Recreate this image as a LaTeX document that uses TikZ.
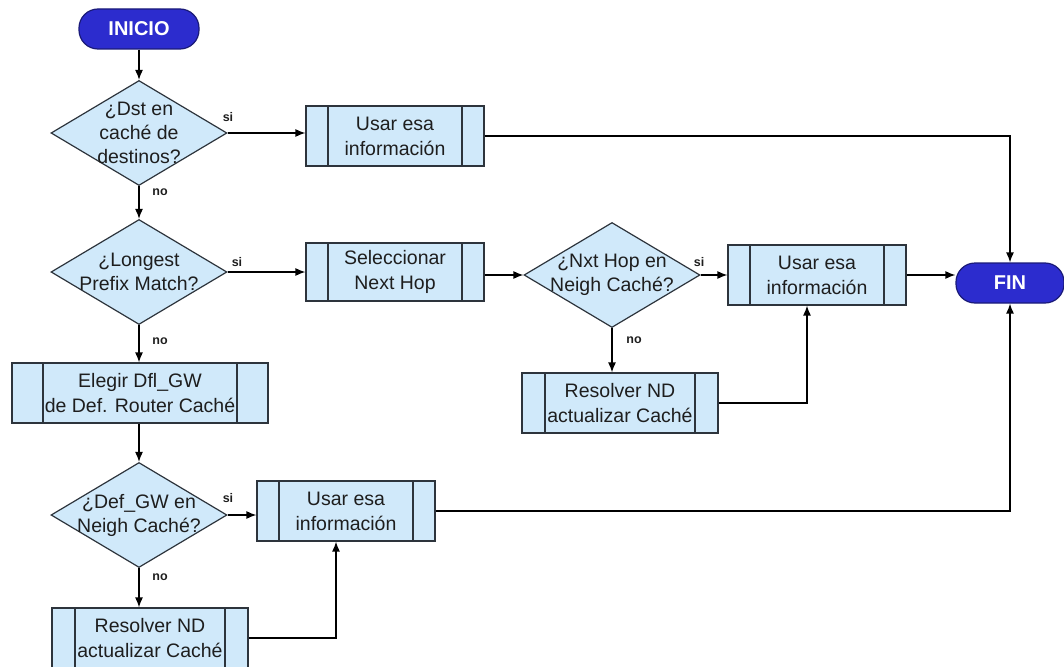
\documentclass[tikz,border=0pt]{standalone}
\usepackage{fontspec}
\setmainfont{Liberation Sans}
\usetikzlibrary{shapes.geometric,arrows.meta}

\definecolor{pillblue}{RGB}{44,44,206}
\definecolor{pilledge}{RGB}{26,26,120}
\definecolor{cellblue}{RGB}{208,233,250}
\definecolor{edgegray}{RGB}{45,52,60}
\definecolor{inkgray}{RGB}{30,30,30}

\tikzset{
  sidew/.store in=\sidew, sidew=22pt,
  terminal/.style={draw=pilledge, line width=1.2pt, fill=pillblue,
    rounded corners=19pt, minimum width=#1, minimum height=40pt,
    inner sep=0pt, text=white, font=\fontsize{20}{24}\selectfont\bfseries},
  decision/.style={diamond, draw=edgegray, line width=1.2pt, fill=cellblue,
    minimum width=176pt, minimum height=105pt, inner sep=0pt},
  dectext/.style={align=center, inner sep=0pt, text=inkgray,
    font=\fontsize{19.5}{24}\selectfont},
  subproc/.style={draw=edgegray, line width=1.2pt, fill=cellblue,
    minimum width=#1, minimum height=60pt, inner sep=0pt, align=center,
    text=inkgray, font=\fontsize{19.5}{25}\selectfont,
    path picture={
      \draw[edgegray, line width=1.2pt]
        ([xshift=\sidew]path picture bounding box.north west) --
        ([xshift=\sidew]path picture bounding box.south west)
        ([xshift=-\sidew]path picture bounding box.north east) --
        ([xshift=-\sidew]path picture bounding box.south east);}},
  flow/.style={draw=black, line width=1.3pt, -{Latex[length=10pt,width=8pt]}},
  branch/.style={inner sep=0pt, text=inkgray, font=\fontsize{12.5}{14}\selectfont\bfseries}
}

\begin{document}
\begin{tikzpicture}[x=1pt, y=-1pt]
  \useasboundingbox (0,0) rectangle (1064,666);

  % terminals
  \node[terminal=120pt] (inicio) at (139,29) {INICIO};
  \node[terminal=108pt] (fin) at (1010,283) {FIN};

  % first decision: destination cache
  \node[decision] (d1) at (139,133) {};
  \node[dectext] (d1t) at (d1) {¿Dst en\\caché de\\destinos?};
  \node[subproc=178pt] (u1) at (395,136) {Usar esa\\información};

  % second decision: longest prefix match
  \node[decision] (d2) at (139,272) {};
  \node[dectext] (d2t) at (d2) {¿Longest\\Prefix Match?};
  \node[subproc=178pt, minimum height=58pt] (sel) at (395,272) {Seleccionar\\Next Hop};

  \node[decision] (d4) at (612,275) {};
  \node[dectext] (d4t) at (d4) {¿Nxt Hop en\\Neigh Caché?};
  \node[subproc=178pt] (u2) at (817,275) {Usar esa\\información};
  \node[subproc=196pt, sidew=23pt] (r1) at (620,403) {Resolver ND\\actualizar Caché};

  % default router branch
  \node[subproc=256pt, sidew=31pt] (el) at (140,393) {Elegir Dfl\_GW\\de Def. Router Caché};
  \node[decision] (d3) at (139,515) {};
  \node[dectext] (d3t) at (d3) {¿Def\_GW en\\Neigh Caché?};
  \node[subproc=178pt] (u3) at (346,511) {Usar esa\\información};
  \node[subproc=196pt, sidew=23pt] (r2) at (150,638) {Resolver ND\\actualizar Caché};

  % branch labels
  \node[branch] (s1) at (228,117) {si};
  \node[branch] (n1) at (160,192) {no};
  \node[branch] (s2) at (237,262) {si};
  \node[branch] (n2) at (160,341) {no};
  \node[branch] (s4) at (699,262) {si};
  \node[branch] (n4) at (634,340) {no};
  \node[branch] (s3) at (228,498) {si};
  \node[branch] (n3) at (160,577) {no};

  % connectors
  \draw[flow] (inicio) -- (d1);
  \draw[flow] (d1.east) -- (d1.east -| u1.west);
  \draw[flow] (u1.east) -| (fin.north);
  \draw[flow] (d1) -- (d2);
  \draw[flow] (d2.east) -- (d2.east -| sel.west);
  \draw[flow] (sel.east |- d4.west) -- (d4.west);
  \draw[flow] (d4.east) -- (u2.west);
  \draw[flow] (u2.east) -- (u2.east -| fin.west);
  \draw[flow] (d4.south) -- (d4.south |- r1.north);
  \draw[flow] (r1.east) -| ([xshift=-10pt]u2.south);
  \draw[flow] (d2.south) -- (d2.south |- el.north);
  \draw[flow] (d3.north |- el.south) -- (d3.north);
  \draw[flow] (d3.east) -- (d3.east -| u3.west);
  \draw[flow] (u3.east) -| (fin.south);
  \draw[flow] (d3.south) -- (d3.south |- r2.north);
  \draw[flow] (r2.east) -| ([xshift=-10pt]u3.south);
\end{tikzpicture}
\end{document}
